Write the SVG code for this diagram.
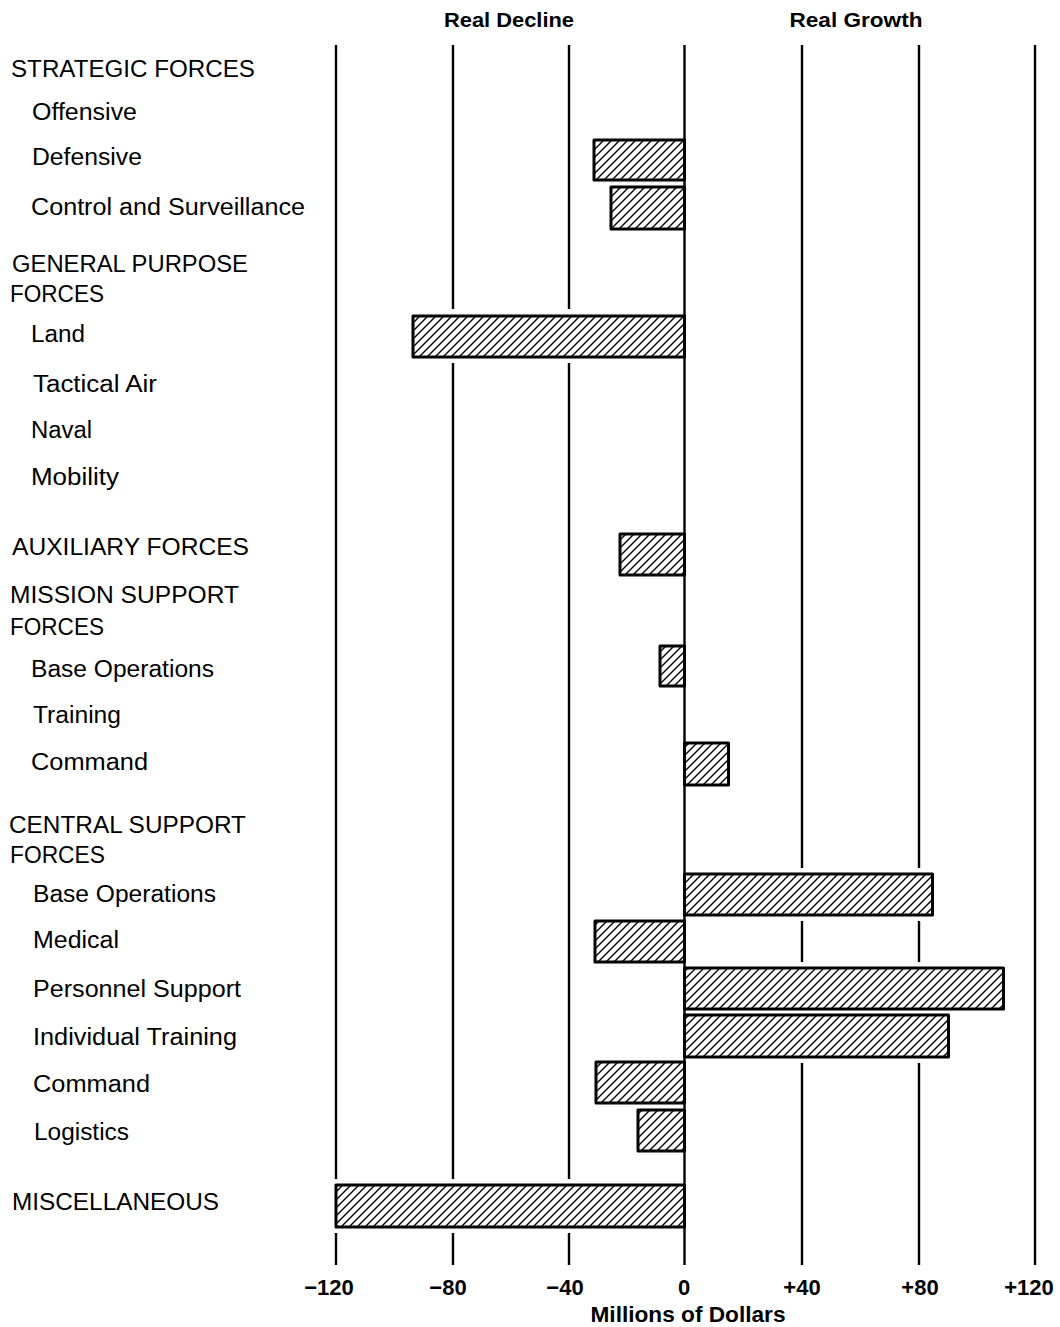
<svg xmlns="http://www.w3.org/2000/svg" width="1060" height="1327" viewBox="0 0 1060 1327">
  <style>
    .lbl { font-family: "Liberation Sans", Arial, sans-serif; font-size: 23px; fill: #000; }
    .hdr { font-family: "Liberation Sans", Arial, sans-serif; font-size: 21px; font-weight: bold; fill: #000; text-anchor: middle; }
    .tick { font-family: "Liberation Sans", Arial, sans-serif; font-size: 22px; font-weight: bold; fill: #000; text-anchor: middle; }
    .grid { stroke: #000; stroke-width: 2.4; }
    .gap { fill: #fff; }
    .bar { fill: url(#hatch); stroke: #000; stroke-width: 3; stroke-linejoin: round; }
  </style>
  <defs>
    <pattern id="hatch" patternUnits="userSpaceOnUse" width="8" height="8">
      <rect width="8" height="8" fill="#fff"/>
      <path d="M-2,2 L2,-2 M0,8 L8,0 M6,10 L10,6" stroke="#000" stroke-width="1.4"/>
    </pattern>
  </defs>
  <rect width="1060" height="1327" fill="#fff"/>

  <!-- column headings -->
  <g id="headings">
    <text class="hdr" x="509" y="27" textLength="130" lengthAdjust="spacingAndGlyphs">Real Decline</text>
    <text class="hdr" x="856" y="27" textLength="133" lengthAdjust="spacingAndGlyphs">Real Growth</text>
  </g>

  <!-- vertical scale lines -->
  <g id="connectors">
    <line class="grid" x1="336" y1="45" x2="336" y2="1265"/>
    <line class="grid" x1="453" y1="45" x2="453" y2="1265"/>
    <line class="grid" x1="569" y1="45" x2="569" y2="1265"/>
    <line class="grid" x1="802" y1="45" x2="802" y2="1265"/>
    <line class="grid" x1="919" y1="45" x2="919" y2="1265"/>
    <line class="grid" x1="1035" y1="45" x2="1035" y2="1265"/>
  </g>

  <!-- white clearances where the scale lines break around the bars -->
  <g id="clearances">
    <rect class="gap" x="585" y="133" width="100" height="103"/>
    <rect class="gap" x="405" y="309" width="280" height="54"/>
    <rect class="gap" x="612" y="527" width="73" height="54"/>
    <rect class="gap" x="652" y="640" width="33" height="53"/>
    <rect class="gap" x="684" y="736" width="53" height="55"/>
    <rect class="gap" x="684" y="868" width="257" height="53"/>
    <rect class="gap" x="587" y="914" width="98" height="54"/>
    <rect class="gap" x="684" y="962" width="328" height="101"/>
    <rect class="gap" x="588" y="1056" width="97" height="54"/>
    <rect class="gap" x="630" y="1104" width="55" height="53"/>
    <rect class="gap" x="328" y="1179" width="357" height="54"/>
  </g>

  <!-- zero line -->
  <line id="zero-axis" class="grid" x1="684.5" y1="45" x2="684.5" y2="1265" stroke-width="3"/>

  <!-- bars -->
  <g id="bar-defensive"><rect class="bar" x="594" y="140" width="90.5" height="40"/></g>
  <g id="bar-control"><rect class="bar" x="611" y="187" width="73.5" height="42"/></g>
  <g id="bar-land"><rect class="bar" x="413" y="316" width="271.5" height="41"/></g>
  <g id="bar-auxiliary"><rect class="bar" x="620" y="534" width="64.5" height="41"/></g>
  <g id="bar-mission-base-ops"><rect class="bar" x="660" y="646" width="24.5" height="40"/></g>
  <g id="bar-mission-command"><rect class="bar" x="684.5" y="743" width="44" height="42"/></g>
  <g id="bar-central-base-ops"><rect class="bar" x="684.5" y="874" width="248" height="41"/></g>
  <g id="bar-medical"><rect class="bar" x="595" y="921" width="89.5" height="41"/></g>
  <g id="bar-personnel"><rect class="bar" x="684.5" y="968" width="319" height="41"/></g>
  <g id="bar-individual-training"><rect class="bar" x="684.5" y="1015" width="264" height="42"/></g>
  <g id="bar-central-command"><rect class="bar" x="596" y="1062" width="88.5" height="41"/></g>
  <g id="bar-logistics"><rect class="bar" x="638" y="1110" width="46.5" height="41"/></g>
  <g id="bar-misc"><rect class="bar" x="336" y="1185" width="348.5" height="42"/></g>

  <!-- category labels -->
  <g id="labels">
    <text class="lbl" x="11" y="77" textLength="244" lengthAdjust="spacingAndGlyphs">STRATEGIC FORCES</text>
    <text class="lbl" x="32" y="120" textLength="105" lengthAdjust="spacingAndGlyphs">Offensive</text>
    <text class="lbl" x="32" y="165" textLength="110" lengthAdjust="spacingAndGlyphs">Defensive</text>
    <text class="lbl" x="31" y="215" textLength="274" lengthAdjust="spacingAndGlyphs">Control and Surveillance</text>
    <text class="lbl" x="12" y="272" textLength="236" lengthAdjust="spacingAndGlyphs">GENERAL PURPOSE</text>
    <text class="lbl" x="10" y="302" textLength="94" lengthAdjust="spacingAndGlyphs">FORCES</text>
    <text class="lbl" x="31" y="342" textLength="54" lengthAdjust="spacingAndGlyphs">Land</text>
    <text class="lbl" x="33" y="392" textLength="124" lengthAdjust="spacingAndGlyphs">Tactical Air</text>
    <text class="lbl" x="31" y="438" textLength="61" lengthAdjust="spacingAndGlyphs">Naval</text>
    <text class="lbl" x="31" y="485" textLength="88" lengthAdjust="spacingAndGlyphs">Mobility</text>
    <text class="lbl" x="12" y="555" textLength="237" lengthAdjust="spacingAndGlyphs">AUXILIARY FORCES</text>
    <text class="lbl" x="10" y="603" textLength="229" lengthAdjust="spacingAndGlyphs">MISSION SUPPORT</text>
    <text class="lbl" x="10" y="635" textLength="94" lengthAdjust="spacingAndGlyphs">FORCES</text>
    <text class="lbl" x="31" y="677" textLength="183" lengthAdjust="spacingAndGlyphs">Base Operations</text>
    <text class="lbl" x="33" y="723" textLength="88" lengthAdjust="spacingAndGlyphs">Training</text>
    <text class="lbl" x="31" y="770" textLength="117" lengthAdjust="spacingAndGlyphs">Command</text>
    <text class="lbl" x="9" y="833" textLength="237" lengthAdjust="spacingAndGlyphs">CENTRAL SUPPORT</text>
    <text class="lbl" x="10" y="863" textLength="95" lengthAdjust="spacingAndGlyphs">FORCES</text>
    <text class="lbl" x="33" y="902" textLength="183" lengthAdjust="spacingAndGlyphs">Base Operations</text>
    <text class="lbl" x="33" y="948" textLength="86" lengthAdjust="spacingAndGlyphs">Medical</text>
    <text class="lbl" x="33" y="997" textLength="208" lengthAdjust="spacingAndGlyphs">Personnel Support</text>
    <text class="lbl" x="33" y="1045" textLength="204" lengthAdjust="spacingAndGlyphs">Individual Training</text>
    <text class="lbl" x="33" y="1092" textLength="117" lengthAdjust="spacingAndGlyphs">Command</text>
    <text class="lbl" x="34" y="1140" textLength="95" lengthAdjust="spacingAndGlyphs">Logistics</text>
    <text class="lbl" x="12" y="1210" textLength="207" lengthAdjust="spacingAndGlyphs">MISCELLANEOUS</text>
  </g>

  <!-- scale values and axis title -->
  <g id="axis">
    <text class="tick" x="329" y="1295">−120</text>
    <text class="tick" x="448" y="1295">−80</text>
    <text class="tick" x="565" y="1295">−40</text>
    <text class="tick" x="684" y="1295">0</text>
    <text class="tick" x="802" y="1295">+40</text>
    <text class="tick" x="920" y="1295">+80</text>
    <text class="tick" x="1029" y="1295">+120</text>
    <text class="tick" x="688" y="1322" textLength="195" lengthAdjust="spacingAndGlyphs">Millions of Dollars</text>
  </g>
</svg>
